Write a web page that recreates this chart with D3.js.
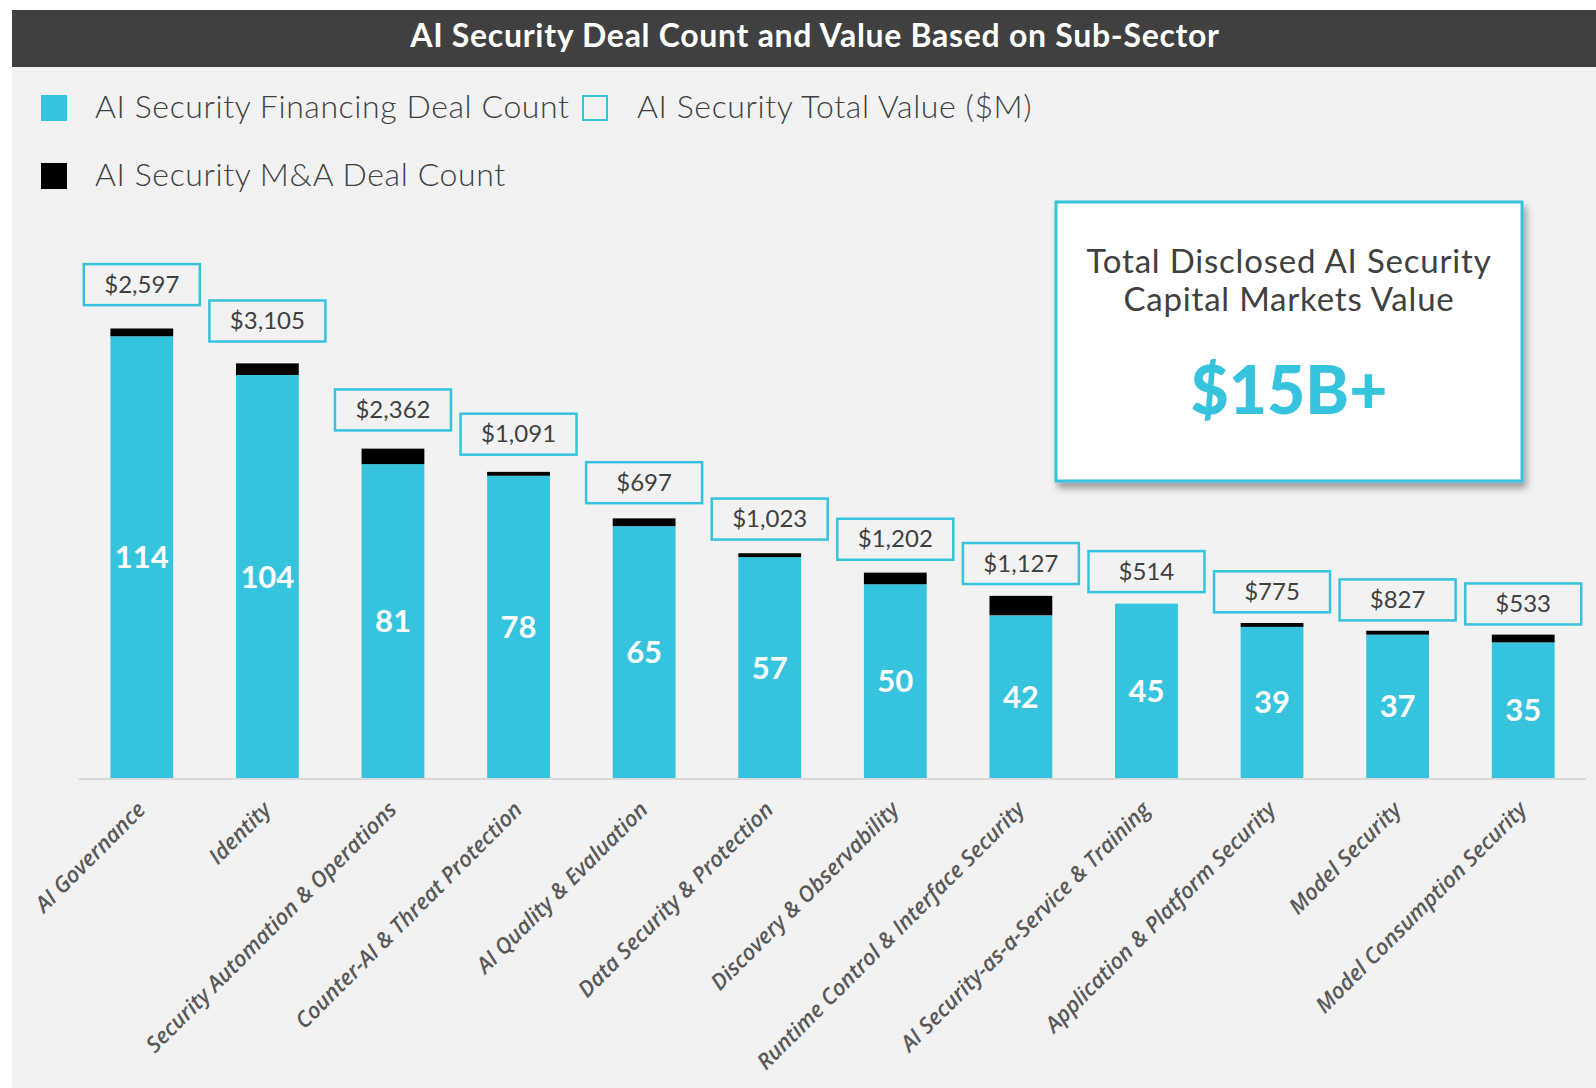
<!DOCTYPE html>
<html>
<head>
<meta charset="utf-8">
<script src="https://cdn.jsdelivr.net/npm/d3@7"></script>
<style>
  body { margin: 0; background: #fff; }
  svg { display: block; }
</style>
</head>
<body>
<div id="chart"></div>
<script>
// sub-sectors, in the order drawn
const categories = [
  "AI Governance", "Identity", "Security Automation & Operations",
  "Counter-AI & Threat Protection", "AI Quality & Evaluation",
  "Data Security & Protection", "Discovery & Observability",
  "Runtime Control & Interface Security", "AI Security-as-a-Service & Training",
  "Application & Platform Security", "Model Security", "Model Consumption Security"
];
// financing deal count (cyan)
const financingCounts = [114, 104, 81, 78, 65, 57, 50, 42, 45, 39, 37, 35];
// M&A deal count (black, stacked on top)
const maCounts = [2, 3, 4, 1, 2, 1, 3, 5, 0, 1, 1, 2];
// total value in $M (boxed labels)
const totalValues = [2597, 3105, 2362, 1091, 697, 1023, 1202, 1127, 514, 775, 827, 533];

const legendLabels = ["AI Security Financing Deal Count", "AI Security Total Value ($M)", "AI Security M&A Deal Count"];
const titleText = "AI Security Deal Count and Value Based on Sub-Sector";
const calloutLines = ["Total Disclosed AI Security", "Capital Markets Value"];
const calloutValue = "$15B+";

const width = 1596, height = 1088;
const cyan = "#35c3de", dark = "#404040", bg = "#f2f2f2";
const font = "Lato, 'Open Sans', sans-serif";

const svg = d3.select("#chart").append("svg").attr("width", width).attr("height", height)
  .style("font-family", font);

// background + title bar
svg.append("rect").attr("x", 12).attr("y", 10).attr("width", width - 12).attr("height", height - 10).attr("fill", bg);
svg.append("rect").attr("x", 12).attr("y", 10).attr("width", width - 12).attr("height", 57).attr("fill", dark);
svg.append("text").text(titleText)
  .attr("x", 815).attr("y", 47).attr("text-anchor", "middle")
  .attr("fill", "#fff").attr("font-size", 32).attr("font-weight", 700)
  .attr("letter-spacing", 0.7);

// legend
const legend = svg.append("g").attr("class", "legend")
  .attr("font-size", 32).attr("font-weight", 300).attr("letter-spacing", 0.6).attr("fill", dark);
legend.append("rect").attr("x", 41).attr("y", 95).attr("width", 26).attr("height", 26).attr("fill", cyan);
legend.append("text").text(legendLabels[0]).attr("x", 95).attr("y", 118);
legend.append("rect").attr("x", 583).attr("y", 96).attr("width", 24).attr("height", 24)
  .attr("fill", "none").attr("stroke", cyan).attr("stroke-width", 2);
legend.append("text").text(legendLabels[1]).attr("x", 637).attr("y", 118);
legend.append("rect").attr("x", 41).attr("y", 163).attr("width", 26).attr("height", 26).attr("fill", "#000");
legend.append("text").text(legendLabels[2]).attr("x", 95).attr("y", 186);

// scales
const x = d3.scaleBand().domain(categories).range([79, 1586]).paddingInner(0.5).paddingOuter(0.25);
const y = d3.scaleLinear().domain([0, 120]).range([778, 313]);

const rows = categories.map((c, i) => ({ cat: c, financing: financingCounts[i], ma: maCounts[i], value: totalValues[i] }));
const series = d3.stack().keys(["financing", "ma"])(rows);
const colors = { financing: cyan, ma: "#000" };

const bars = svg.append("g").attr("class", "bars");
series.forEach(s => {
  bars.selectAll(null).data(s).join("rect")
    .attr("x", d => x(d.data.cat))
    .attr("width", x.bandwidth())
    .attr("y", d => y(d[1]))
    .attr("height", d => y(d[0]) - y(d[1]))
    .attr("fill", colors[s.key]);
});

// baseline
svg.append("line").attr("x1", 79).attr("x2", 1586).attr("y1", 779).attr("y2", 779)
  .attr("stroke", "#d9d9d9").attr("stroke-width", 2);

// counts inside cyan segment
bars.selectAll("text.count").data(rows).join("text").attr("class", "count")
  .attr("x", d => x(d.cat) + x.bandwidth() / 2)
  .attr("y", d => (y(0) + y(d.financing)) / 2 + 11)
  .attr("text-anchor", "middle").attr("fill", "#fff")
  .attr("font-size", 31).attr("font-weight", 700)
  .text(d => d.financing);

// boxed total values
const fmt = d3.format("$,");
const boxW = 116, boxH = 41;
const boxes = svg.append("g").attr("class", "value-boxes").selectAll("g").data(rows).join("g")
  .attr("transform", d => {
    const total = d.financing + d.ma;
    const gap = 4 + 0.167 * total;
    return `translate(${x(d.cat) + x.bandwidth() / 2},${y(total) - gap - boxH / 2})`;
  });
boxes.append("rect").attr("x", -boxW / 2).attr("y", -boxH / 2).attr("width", boxW).attr("height", boxH)
  .attr("fill", bg).attr("stroke", cyan).attr("stroke-width", 2.5);
boxes.append("text").attr("text-anchor", "middle").attr("y", 8)
  .attr("fill", dark).attr("font-size", 24).text(d => fmt(d.value));

// category labels
svg.append("g").attr("class", "cat-labels").selectAll("text").data(categories).join("text")
  .attr("transform", d => `translate(${x(d) + x.bandwidth() / 2 + 5},${811}) rotate(-45)`)
  .attr("text-anchor", "end")
  .style("font-family", "'Open Sans', sans-serif").style("font-style", "italic").style("font-weight", 600)
  .style("font-size", "22px").attr("fill", "#595959")
  .text(d => d);

// callout
const defs = svg.append("defs");
const f = defs.append("filter").attr("id", "shadow").attr("x", "-10%").attr("y", "-10%").attr("width", "130%").attr("height", "130%");
f.append("feDropShadow").attr("dx", 3).attr("dy", 6).attr("stdDeviation", 3.5).attr("flood-color", "#000").attr("flood-opacity", 0.35);

const callout = svg.append("g").attr("class", "callout");
callout.append("rect").attr("x", 1056).attr("y", 202).attr("width", 466).attr("height", 279)
  .attr("fill", "#fff").attr("stroke", cyan).attr("stroke-width", 3).attr("filter", "url(#shadow)");
calloutLines.forEach((t, i) => {
  callout.append("text").text(t).attr("x", 1289).attr("y", 273 + i * 38)
    .attr("text-anchor", "middle").attr("fill", dark).attr("font-size", 33).attr("letter-spacing", 0.8);
});
callout.append("text").text(calloutValue).attr("x", 1289).attr("y", 414)
  .attr("text-anchor", "middle").attr("fill", cyan).attr("font-size", 66).attr("font-weight", 900);
</script>
</body>
</html>
